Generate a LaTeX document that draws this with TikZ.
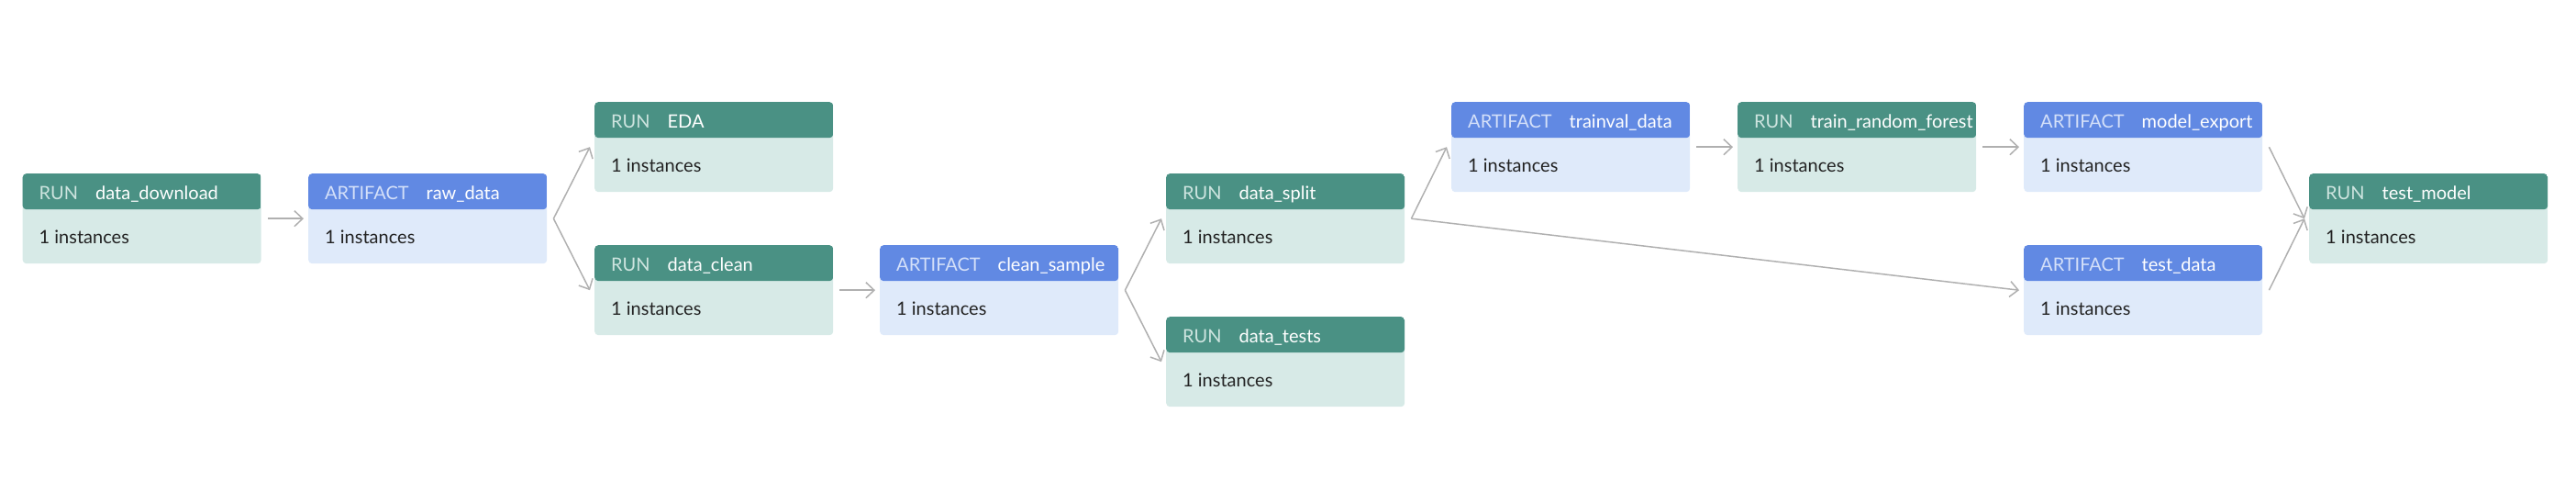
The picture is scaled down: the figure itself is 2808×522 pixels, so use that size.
\documentclass[tikz,border=0pt]{standalone}
\usepackage{fontspec}
\setmainfont{Lato}
\usetikzlibrary{arrows.meta}
\definecolor{runhd}{RGB}{74,145,132}
\definecolor{runbd}{RGB}{215,234,231}
\definecolor{runlb}{RGB}{205,228,223}
\definecolor{arthd}{RGB}{97,137,227}
\definecolor{artbd}{RGB}{223,234,250}
\definecolor{artlb}{RGB}{212,224,249}
\definecolor{txt}{RGB}{34,34,34}
\definecolor{edge}{RGB}{176,176,176}
\tikzset{
  card/.style={rectangle, rounded corners=4pt, minimum width=260pt, minimum height=98pt,
    inner sep=0pt, anchor=north west, fill=#1bd,
    path picture={\fill[#1hd] (path picture bounding box.north west) rectangle
      ([yshift=-39pt]path picture bounding box.north east);}},
  hdtxt/.style={anchor=base west, inner sep=0pt, text=white, font=\fontsize{20}{22}\selectfont},
  bdtxt/.style={anchor=base west, inner sep=0pt, text=txt, font=\fontsize{20}{22}\selectfont},
  flow/.style={draw=edge, line width=1.5pt, -{Straight Barb[length=9pt,width=17pt,line width=1.5pt]}},
}
\newcommand{\card}[6]{%
  \node[card=#4] (#1) at (#2,#3) {};
  \node[hdtxt] (#1-h) at ([xshift=18pt,yshift=-28.3pt]#1.north west)
    {\textcolor{#4lb}{#5}\hspace{19pt}#6};
  \node[bdtxt] (#1-b) at ([xshift=18pt,yshift=-76pt]#1.north west) {1 instances};
}
\newcommand{\flowline}[2]{\draw[flow] ([xshift=7pt]#1.east) -- ([xshift=-5pt]#2.west);}
\begin{document}
\begin{tikzpicture}[x=1pt,y=-1pt]
\useasboundingbox (0,0) rectangle (2808,522);
\card{dd}{24.5}{189}{run}{RUN}{data\_download}
\card{raw}{336}{189}{art}{ARTIFACT}{raw\_data}
\card{eda}{648}{111}{run}{RUN}{EDA}
\card{clean}{648}{267}{run}{RUN}{data\_clean}
\card{cs}{959}{267}{art}{ARTIFACT}{clean\_sample}
\card{split}{1271}{189}{run}{RUN}{data\_split}
\card{tests}{1271}{345}{run}{RUN}{data\_tests}
\card{tv}{1582}{111}{art}{ARTIFACT}{trainval\_data}
\card{rf}{1894}{111}{run}{RUN}{train\_random\_forest}
\card{me}{2206}{111}{art}{ARTIFACT}{model\_export}
\card{td}{2206}{267}{art}{ARTIFACT}{test\_data}
\card{tm}{2517}{189}{run}{RUN}{test\_model}
\flowline{dd}{raw}
\flowline{raw}{eda}
\flowline{raw}{clean}
\flowline{clean}{cs}
\flowline{cs}{split}
\flowline{cs}{tests}
\flowline{split}{tv}
\flowline{split}{td}
\flowline{tv}{rf}
\flowline{rf}{me}
\flowline{me}{tm}
\flowline{td}{tm}
\end{tikzpicture}
\end{document}
